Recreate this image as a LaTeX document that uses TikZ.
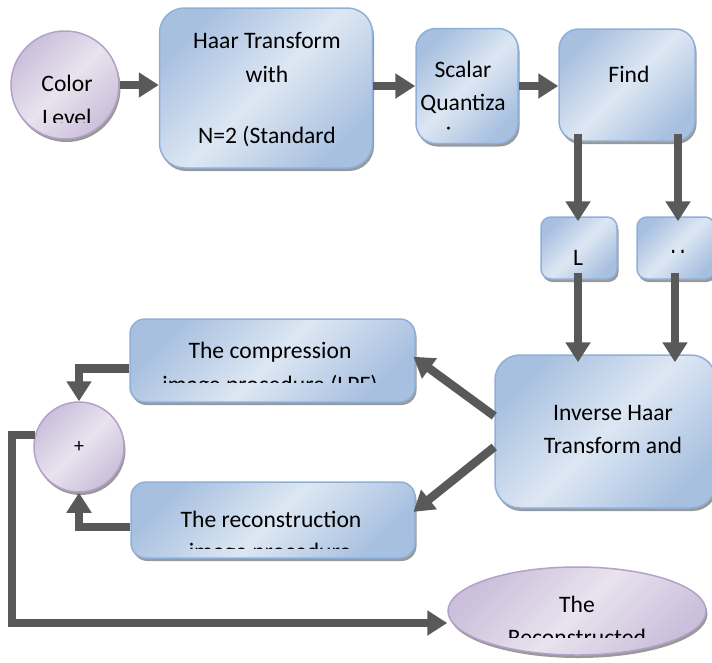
\documentclass[tikz,border=0pt]{standalone}
\usepackage{fontspec}
\setmainfont{Carlito}
\usetikzlibrary{arrows.meta,shadows,calc,shapes.geometric}

\definecolor{arrgray}{HTML}{595959}
\definecolor{bluelight}{HTML}{DDE7F3}
\definecolor{bluedark}{HTML}{A8C0E0}
\definecolor{blueedge}{HTML}{8EAFD8}
\definecolor{lilaclight}{HTML}{E8E3EE}
\definecolor{lilacdark}{HTML}{CBBFDB}
\definecolor{lilacedge}{HTML}{B3A2C7}

\tikzset{
  blk/.style={rectangle, rounded corners=#1, draw=blueedge, line width=1.5pt,
    left color=bluedark, right color=bluedark, middle color=bluelight,
    shading angle=45, inner sep=0pt,
    drop shadow={shadow xshift=1.5pt, shadow yshift=-3pt, fill=black!40, opacity=1}},
  rnd/.style={draw=lilacedge, line width=1.5pt,
    left color=lilacdark, right color=lilacdark, middle color=lilaclight,
    shading angle=45, inner sep=0pt,
    drop shadow={shadow xshift=1.5pt, shadow yshift=-3pt, fill=black!40, opacity=1}},
  txt/.style={font=\fontsize{23.6}{32}\selectfont, inner sep=0pt, anchor=base},
  arr/.style={draw=arrgray, line width=8.5pt, -{Triangle[width=24pt,length=20pt]}},
}

\begin{document}
\begin{tikzpicture}[x=1pt, y=-1pt]
\useasboundingbox (0,0) rectangle (712,662);

% ---- shapes ----
\node[rnd, circle, minimum size=108pt] (color) at (65,85) {};
\node[blk=25pt, minimum width=213pt, minimum height=160pt] (haar) at (266,88) {};
\node[blk=20pt, minimum width=102pt, minimum height=115pt] (scalar) at (467,86) {};
\node[blk=20pt, minimum width=136pt, minimum height=112pt] (find) at (627,85) {};
\node[blk=10pt, minimum width=76pt, minimum height=62pt] (lbox) at (579,248) {};
\node[blk=10pt, minimum width=78pt, minimum height=62pt] (hbox) at (676,248) {};
\node[blk=25pt, minimum width=221pt, minimum height=153pt] (inverse) at (605.5,431.5) {};
\node[blk=15pt, minimum width=285pt, minimum height=83pt] (comp) at (272.5,360.5) {};
\node[blk=15pt, minimum width=284pt, minimum height=76pt] (recon) at (273,520) {};
\node[rnd, circle, minimum size=90pt] (plus) at (79,447) {};
\node[rnd, ellipse, minimum width=258pt, minimum height=88pt] (recd) at (577,611) {};

% ---- texts ----
\node[txt] (colorA) at (67,91.7) {Color};
\begin{scope}
  \clip (0,0) rectangle (712,122);
  \node[txt] (colorB) at (67,125) {Level};
\end{scope}

\node[txt] (haarA) at (267,48) {Haar Transform};
\node[txt] (haarB) at (267,82) {with};
\node[txt] (haarC) at (267,143) {N=2 (Standard};

\node[txt] (scalarA) at (463,77) {Scalar};
\node[txt] (scalarB) at (463,110) {Quantiza};
\begin{scope}
  \clip (446.5,0) rectangle (530,129.5);
  \node[txt] (scalarC) at (457,143) {tion};
\end{scope}

\node[txt] (findA) at (629,82) {Find};

\node[txt] (lA) at (578,265) {L};
\begin{scope}
  \clip (630,0) rectangle (712,252);
  \node[txt] (hA) at (678,265) {H};
\end{scope}

\node[txt] (compA) at (270,358) {The compression};
\begin{scope}
  \clip (120,300) rectangle (420,382);
  \node[txt] (compB) at (270,392) {image procedure (LPF)};
\end{scope}

\node[txt] (reconA) at (271,527) {The reconstruction};
\begin{scope}
  \clip (120,470) rectangle (420,548);
  \node[txt] (reconB) at (270,559) {image procedure};
\end{scope}

\node[font=\fontsize{20}{24}\selectfont, inner sep=0pt] (plusA) at (79,447) {+};

\node[txt] (invA) at (613,420) {Inverse Haar};
\node[txt] (invB) at (613,453) {Transform and};

\node[txt] (recdA) at (577,612) {The};
\begin{scope}
  \clip (440,560) rectangle (712,637);
  \node[txt] (recdB) at (577,645) {Reconstructed};
\end{scope}

% ---- connectors ----
\draw[arr] (color.east) -- (haar.west |- color.east);
\draw[arr] (haar.east |- scalar.west) -- (scalar.west);
\draw[arr] (scalar.east) -- (find.west |- scalar.east);

\draw[arr, shorten >=-5pt] ($(find.south -| lA)+(0,-8)$) -- (lA |- lbox.north);
\draw[arr, shorten >=-5pt] ($(find.south -| hA)+(0,-8)$) -- (hA |- hbox.north);
\coordinate (hx) at (675,0);
\draw[arr, shorten >=-8pt] ($(lbox.south -| lA)+(0,-7)$) -- (lA |- inverse.north);
\draw[arr, shorten >=-8pt] ($(hbox.south -| hx)+(0,-7)$) -- (hx |- inverse.north);

\draw[arr, shorten >=-3pt] ($(inverse.west)+(0,-15.5)$) -- ($(comp.east)+(0,-2)$);
\draw[arr, shorten >=-3pt] ($(inverse.west)+(0,15.5)$) -- ($(recon.east)+(0,-10)$);

\draw[arr] ($(comp.west)+(0,8)$) -| (plus.north);
\draw[arr] ($(recon.west)+(0,7)$) -| (plus.south);

\coordinate (loop) at (12,623);
\draw[arr] (plus.165) -| (loop) -- (loop -| recd.west);
\end{tikzpicture}
\end{document}
